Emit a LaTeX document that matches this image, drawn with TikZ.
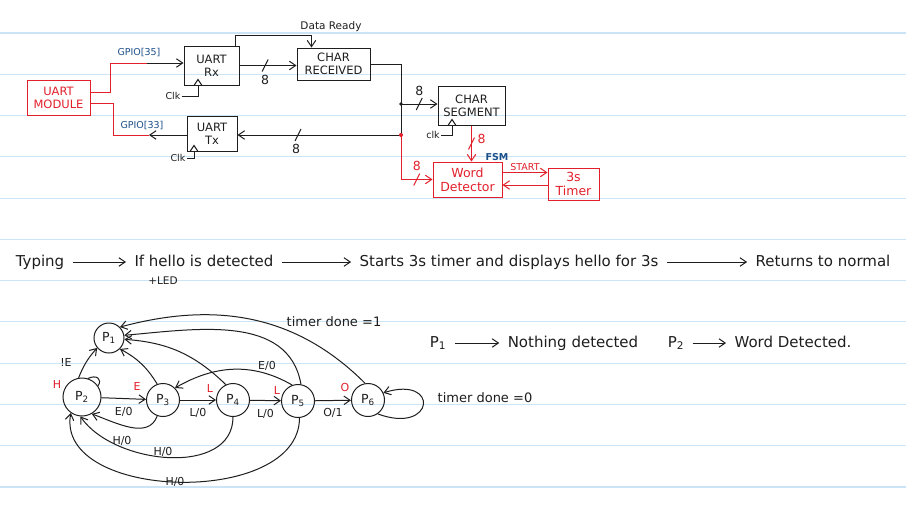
\documentclass[tikz,border=0pt]{standalone}
\usepackage{fontspec}
\setmainfont{DejaVu Sans}
\usepackage{tikz}
\usetikzlibrary{arrows.meta,positioning}
\usepackage{xcolor}
\definecolor{ink}{HTML}{1E1E1E}
\definecolor{redpen}{HTML}{E2202B}
\definecolor{bluepen}{HTML}{1B4F8A}
\definecolor{ruling}{HTML}{CBE5F7}
\newcommand{\busslash}[2][ink]{\draw[#1] ([shift={(-3,6)}]#2) -- ([shift={(3,-6)}]#2);}

\begin{document}
\begin{tikzpicture}[x=1pt,y=-1pt,line width=1pt,color=ink,
        blk/.style={rectangle,draw=ink,align=center,inner sep=1pt,font=\fontsize{11.5}{13}\selectfont},
        rblk/.style={blk,draw=redpen,text=redpen},
        arr/.style={-{Straight Barb[length=2.2mm,width=3mm]}},
        flow/.style={arr,shorten >=7pt,shorten <=7pt},
        tag/.style={inner sep=1pt,font=\fontsize{9.5}{10}\selectfont},
        lbl/.style={inner sep=1pt,font=\fontsize{11}{11}\selectfont},
        num/.style={inner sep=1pt,font=\fontsize{12.5}{13}\selectfont},
        say/.style={inner sep=1pt,text height=11pt,text depth=3pt,font=\fontsize{15}{16}\selectfont},
        pst/.style={circle,draw=ink,minimum size=33pt,inner sep=0pt,font=\fontsize{12.5}{13}\selectfont}]
  \useasboundingbox (0,0) rectangle (906,515);
  \fill[white] (0,0) rectangle (906,515);
  \foreach \k in {0,...,11}
    \draw[ruling,line width=1.1pt] (0,33+41.27*\k) -- (906,33+41.27*\k);

  \node[rblk,minimum width=63pt,minimum height=35pt] (mod) at (58.5,97.5) {UART\\MODULE};
  \node[blk,minimum width=55pt,minimum height=39pt] (rx) at (211.5,65.5) {UART\\Rx};
  \node[blk,minimum width=50pt,minimum height=35pt] (tx) at (212,133.5) {UART\\Tx};
  \node[blk,minimum width=73pt,minimum height=32pt] (crx) at (333.5,64) {CHAR\\RECEIVED};
  \node[blk,minimum width=67pt,minimum height=39pt] (seg) at (471.5,105.5) {CHAR\\SEGMENT};
  \node[rblk,minimum width=69pt,minimum height=35pt,font=\fontsize{12.5}{14}\selectfont] (wd) at (467.5,179.5) {Word\\Detector};
  \node[rblk,minimum width=51pt,minimum height=32pt,font=\fontsize{12.5}{14}\selectfont] (tmr) at (573.5,184) {3s\\Timer};

  \coordinate (g35) at (147,63);
  \coordinate (g33) at (149,135);
  \draw[redpen] ([yshift=5pt]mod.east) -- ++(20,0) |- (g35);
  \draw[arr] (g35) -- (g35 -| rx.west);
  \node[tag,text=bluepen] (gp35) at (139,53) {GPIO[35]};
  \draw[redpen] ([yshift=-6pt]mod.east) -- ++(23,0) |- (g33);
  \draw[arr] (g33 -| tx.west) -- (g33);
  \node[tag,text=bluepen] (gp33) at (142,126) {GPIO[33]};

  \node[tag] (ck1) at (173,96) {Clk};
  \coordinate (ck1p) at ([xshift=-13.5pt]rx.south);
  \draw (ck1.east) -| (ck1p);
  \draw ([xshift=-4pt]ck1p) -- ([yshift=6pt]ck1p) -- ([xshift=4pt]ck1p);
  \node[tag] (ck2) at (178,158) {Clk};
  \coordinate (ck2p) at ([xshift=-18pt]tx.south);
  \draw (ck2.east) -| (ck2p);
  \draw ([xshift=-4pt]ck2p) -- ([yshift=6pt]ck2p) -- ([xshift=4pt]ck2p);

  \draw[arr] (rx.east) -- coordinate[pos=.45] (b1) (rx.east -| crx.west);
  \busslash{b1}
  \node[num] (n1) at ([yshift=-14pt]b1) {8};
  \draw[arr] ([xshift=-4pt]rx.north east) |- ([xshift=-22pt,yshift=12pt]crx.north) -- ([xshift=-22pt]crx.north);
  \node[tag,font=\fontsize{10.5}{11}\selectfont] (drdy) at (331,27) {Data Ready};

  \coordinate (jn) at (401,104);
  \coordinate (jr) at (401,135);
  \draw (crx.east) -| (jr);
  \fill (jn) circle (1.8);
  \draw[arr] (jn) -- coordinate[pos=.5] (b2) (jn -| seg.west);
  \busslash{b2}
  \node[num] (n2) at ([yshift=13pt]b2) {8};
  \draw[arr] (jr) -- coordinate[pos=.63] (b3) (jr -| tx.east);
  \busslash{b3}
  \node[num] (n3) at ([xshift=-2pt,yshift=-14pt]b3) {8};
  \draw[redpen,arr] (jr) |- coordinate[pos=.75] (b4) (wd.west);
  \busslash[redpen]{b4}
  \node[num,text=redpen] (n4) at ([yshift=14pt]b4) {8};
  \fill[redpen] (jr) circle (2);
  \draw[redpen,arr] (seg.south) -- coordinate[pos=.5] (b5) (seg.south |- wd.north);
  \busslash[redpen]{b5}
  \node[num,text=redpen] (n5) at ([xshift=10pt,yshift=5pt]b5) {8};

  \node[tag] (ck3) at (433,135) {clk};
  \coordinate (ck3p) at ([xshift=-19.5pt]seg.south);
  \draw (ck3.east) -| (ck3p);
  \draw ([xshift=-4pt]ck3p) -- ([yshift=6pt]ck3p) -- ([xshift=4pt]ck3p);

  \node[tag,text=bluepen,font=\bfseries\fontsize{9.5}{10}\selectfont] (fsm) at (497,157) {FSM};
  \draw[redpen,arr] ([yshift=7pt]wd.east) -- node[tag,above,text=redpen] {START} ([yshift=7pt]wd.east -| tmr.west);
  \draw[redpen,arr] ([yshift=-1pt]tmr.west) -- ([yshift=-1pt]tmr.west -| wd.east);

  \node[say] (ty) at (40,262) {Typing};
  \node[say] (hl) at (204,262) {If hello is detected};
  \node[tag,font=\fontsize{10.5}{11}\selectfont] (led) at (163,281) {+LED};
  \node[say] (st) at (509,262) {Starts 3s timer and displays hello for 3s};
  \node[say] (rt) at (823,262) {Returns to normal};
  \draw[flow] (ty) -- (hl);
  \draw[flow] (hl) -- (st);
  \draw[flow] (st) -- (rt);

  \node[say] (lp1) at (438,343) {P\textsubscript{1}};
  \node[say] (lnd) at (573,343) {Nothing detected};
  \node[say] (lp2) at (676,343) {P\textsubscript{2}};
  \node[say] (lwd) at (793,343) {Word Detected.};
  \draw[flow] (lp1) -- (lnd);
  \draw[flow] (lp2) -- (lwd);

  \node[pst,minimum size=30pt] (p1) at (109,338) {P\textsubscript{1}};
  \node[pst,minimum size=38pt] (p2) at (82,397) {P\textsubscript{2}};
  \node[pst] (p3) at (163,400) {P\textsubscript{3}};
  \node[pst] (p4) at (233,400) {P\textsubscript{4}};
  \node[pst] (p5) at (298,401) {P\textsubscript{5}};
  \node[pst] (p6) at (368,400) {P\textsubscript{6}};

  \draw[arr] (p2) -- node[lbl,below=7pt] {E/0} (p3);
  \draw[arr] (p3) -- node[lbl,below=7pt] {L/0} (p4);
  \draw[arr] (p4) -- node[lbl,below=7pt] {L/0} (p5);
  \draw[arr] (p5) -- node[lbl,below=6pt] {O/1} (p6);
  \draw[arr] (p3.250) to[out=-110,in=-20] (p2.-60);
  \node[lbl] (h1) at (122,441) {H/0};
  \draw[arr] (p4.south) to[out=-90,in=-55] (p2.-95);
  \node[lbl] (h2) at (163,452) {H/0};
  \draw[arr] (p5.-85) to[out=-90,in=-100] (p2.-125);
  \node[lbl] (h3) at (175,482) {H/0};
  \draw[arr] (p5.110) to[out=150,in=30] (p3.45);
  \node[lbl] (e1) at (267,366) {E/0};
  \draw[arr] (p2.100) to[bend left=10] (p1.-140);
  \node[lbl] (ne) at (66,362) {!E};
  \draw (p2.72) .. controls +(8,-4) and +(5,-7) .. (p2.35);
  \draw[arr] (p3.110) to[bend right=15] (p1.-45);
  \draw[arr] (p4.115) to[bend right=20] (p1.-5);
  \draw[arr] (p5.80) to[out=100,in=5] (p1.10);
  \draw[arr] (p6.100) to[out=135,in=15] (p1.45);
  \node[lbl,font=\fontsize{13}{13}\selectfont] (td1) at (334,322) {timer done =1};
  \draw[arr] (p6.-55) .. controls (435,435) and (440,375) .. (p6.25);
  \node[lbl,font=\fontsize{13}{13}\selectfont] (td0) at (485,398) {timer done =0};

  \node[lbl,text=redpen] at (57,384) {H};
  \node[lbl,text=redpen] at (137,386) {E};
  \node[lbl,text=redpen] at (210,388) {L};
  \node[lbl,text=redpen] at (277,390) {L};
  \node[lbl,text=redpen] at (345,387) {O};
\end{tikzpicture}
\end{document}
